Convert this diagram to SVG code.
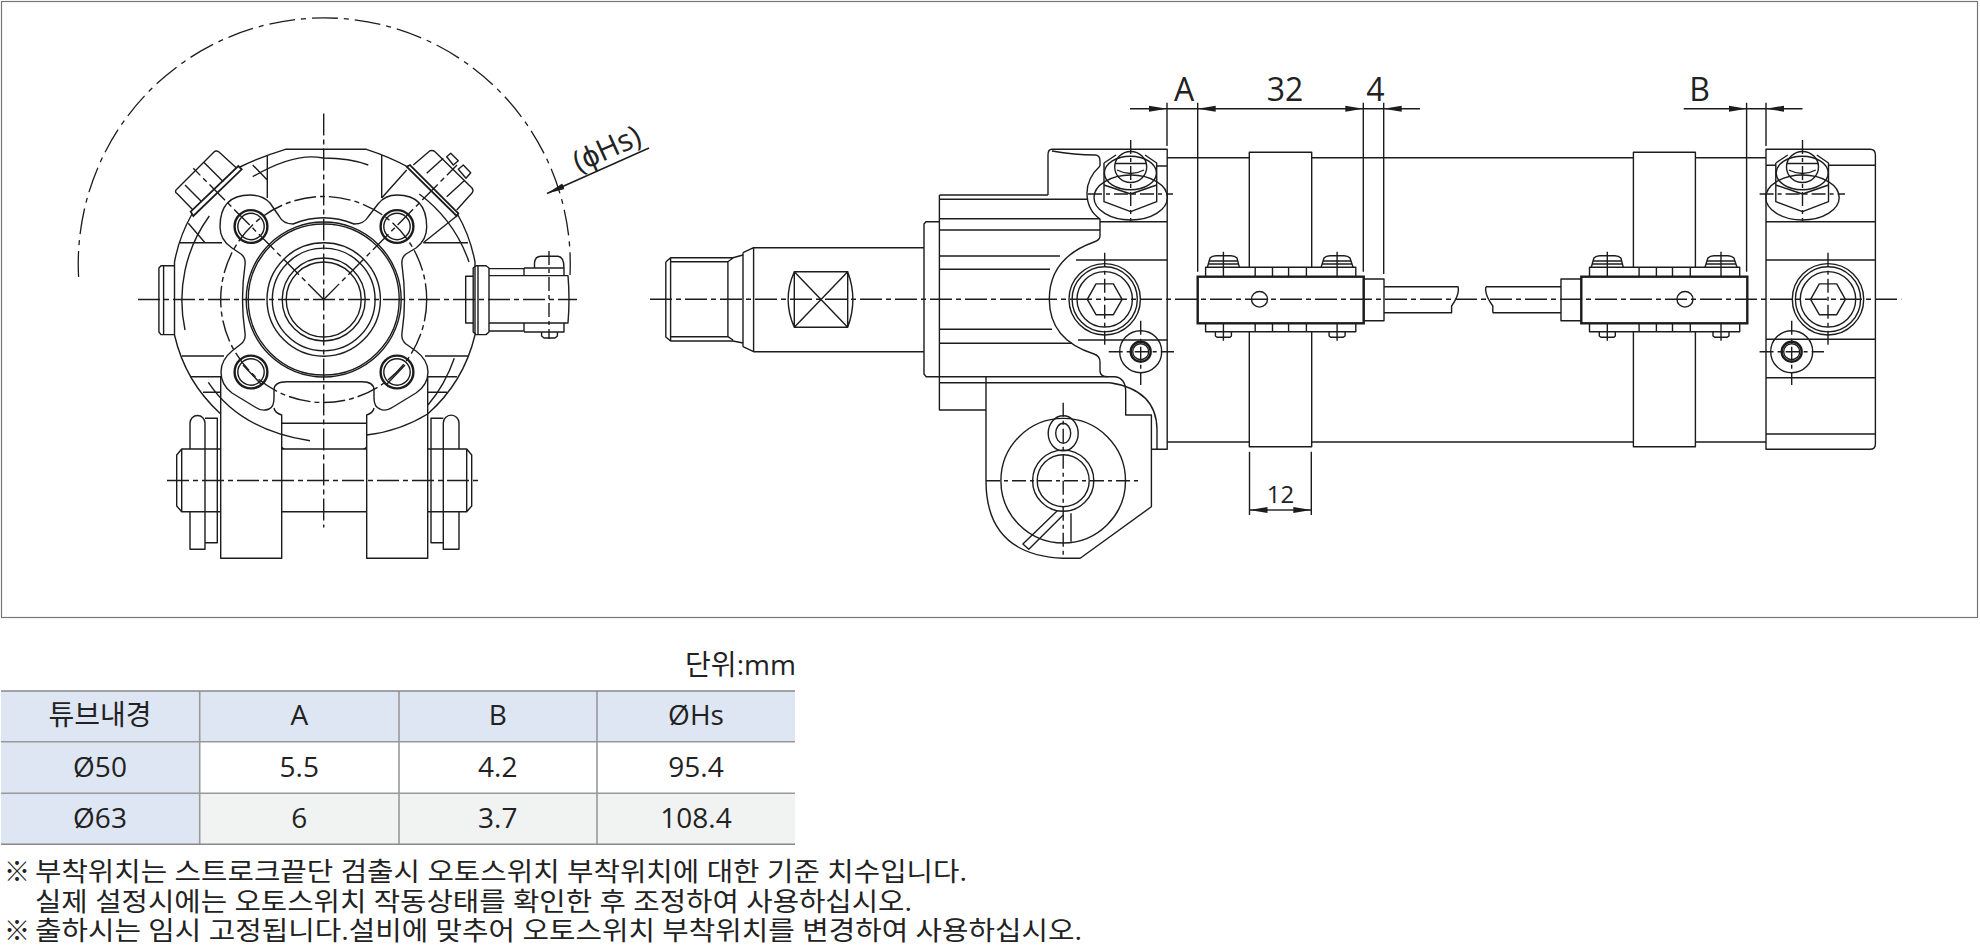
<svg xmlns="http://www.w3.org/2000/svg" width="1980" height="947" viewBox="0 0 1980 947">
<style>
.l{fill:none;stroke:#1c1c1c;stroke-width:1.4;stroke-linejoin:round}
.t{fill:none;stroke:#1c1c1c;stroke-width:2.4}
.c{fill:none;stroke:#1c1c1c;stroke-width:1.4;stroke-dasharray:22 4 5 4}
.b{fill:none;stroke:#1c1c1c;stroke-width:1.3;stroke-dasharray:26 6 5 6}
.k{fill:none;stroke:#1c1c1c;stroke-width:1.4;stroke-dasharray:14 4 4 4}
.d{fill:none;stroke:#1c1c1c;stroke-width:1.4}
text{font-family:"Open Sans","Noto Sans CJK KR",sans-serif;fill:#222}
.dim{font-size:32px;text-anchor:middle}
.tb{font-size:28px;text-anchor:middle}
.n{font-size:26px}
.g{stroke:#999;stroke-width:1.6;fill:none}
.h{fill:#dfe6f3}
.z{fill:#f1f3f2}
</style>
<defs>
<marker id="ar" markerUnits="userSpaceOnUse" markerWidth="20" markerHeight="8" refX="18" refY="4" orient="auto"><path d="M0 1L18 4L0 7Z" fill="#1c1c1c"/></marker>
<g id="top-bolt">
<ellipse class="l" cx="1130.7" cy="197.5" rx="36.7" ry="22.5"/>
<path class="l" d="M1104 163V201.7L1130.7 211.7L1156.7 201.7V163L1145 155M1116 155L1104 163M1104 185L1130.7 194L1156.7 185"/>
<ellipse class="l" cx="1130.4" cy="173" rx="26" ry="16.7"/>
<ellipse class="l" cx="1130.7" cy="167" rx="16" ry="15.5"/>
<path class="l" d="M1115 163.5H1146.5M1117 170Q1130.7 177 1144 170"/>
</g>
<g id="bolt-cross"><circle class="t" r="16.4"/><circle class="l" r="13.2"/></g>
<g id="socket-bolt"><circle class="l" r="35.7"/><circle class="l" r="32.6"/><circle class="l" r="27.7"/><path class="l" d="M-17.4 0L-8.7 -15.4H8.7L17.4 0L8.7 15.4H-8.7Z"/></g>
<g id="small-bolt"><circle class="l" r="21"/><circle class="t" r="10"/><circle class="l" r="8"/></g>
<g id="switch-plate">
<path class="l" d="M1205.6 276.7V267.3H1355.8V276.7M1205.6 323.3V331.7H1355.8V323.3M1255.2 267.3V276.7M1272.5 267.3V276.7M1288.6 267.3V276.7M1306.4 267.3V276.7M1255.2 323.3V331.7M1272.5 323.3V331.7M1288.6 323.3V331.7M1306.4 323.3V331.7"/>
<path class="l" d="M1207.4 267.3L1210 258Q1212 255.7 1216 255.7H1231Q1235 255.7 1237 258L1239.4 267.3M1208 264H1239M1209 261H1238M1321.1 267.3L1324 258Q1326 255.7 1330 255.7H1344Q1348 255.7 1350 258L1353.1 267.3M1322 264H1352M1323 261H1351"/>
<path class="l" d="M1215.4 331.7V336L1217 337.3H1230L1231.4 336V331.7M1329.1 331.7V336L1331 337.3H1343L1345.1 336V331.7"/>
<path class="d" d="M1223.4 251.7V276M1223.4 324V340.7M1337.1 251.7V276M1337.1 324V340.7"/>
</g>
</defs>
<rect id="frame" x="1.5" y="1.5" width="1976" height="616" fill="#fff" stroke="#777" stroke-width="1.2"/>

<g id="front-view">
<path class="b" d="M78.6 277A246 246 0 1 1 570 275"/>
<path class="l" d="M192 214A153 153 0 0 0 174.5 262V335A153 153 0 0 0 220.7 414M240 167Q260 157 285.4 149.3H366.4Q390 157 408 167M457.4 214A153 153 0 0 1 475 262V335A153 153 0 0 1 427.7 414A150 150 0 0 1 366.7 435"/>
<path class="l" d="M209.3 216A143 143 0 0 0 185 330M419.3 194A143 143 0 0 1 469 262M252.7 176.7Q295 152 323 158Q350 158 368.3 165M208.3 382.3Q240 430 310 440.7M454.3 358.3Q445 385 428 405"/>
<circle class="c" cx="323.7" cy="299.5" r="103"/>
<path class="l" d="M220 226.7Q220 195 250 195Q263 195 270 203L279 216Q283 224 293 224A80 80 0 0 1 354 224Q364 224 368 217L378 204Q385 195 397 195Q426.7 195 426.7 227Q426.7 240 416 248L406 254Q401 258 402 265Q407 300 402 333Q401 340 406 344L416 351Q428 360 428 372Q428 385 416 393L393 407Q385 412 380 409Q374 407 374 398V390Q374 381.7 362 381.7H287Q274 381.7 274 390V398Q274 407 269 409Q262 412 255 407L232 393Q221 385 221 372Q221 360 232 351L241 344Q246 340 245 333Q240 300 245 265Q246 258 241 254L232 248Q220 240 220 226.7Z"/>
<circle class="l" cx="323.7" cy="299.5" r="77.5"/><circle class="l" cx="323.7" cy="299.5" r="75.5"/>
<circle class="l" cx="323.7" cy="299.5" r="56.7"/><circle class="l" cx="323.7" cy="299.5" r="51.4"/>
<circle class="l" cx="323.7" cy="299.5" r="41.5"/><circle class="l" cx="323.7" cy="299.5" r="37.5"/>
<g id="bolts-front">
<use href="#bolt-cross" x="251" y="226.5"/><use href="#bolt-cross" x="397" y="226.5"/><use href="#bolt-cross" x="251" y="372"/><use href="#bolt-cross" x="397" y="372"/>
</g>
<path class="c" d="M323.7 299.5L193.3 168.3M323.7 299.5L457 165"/>
<path class="l" d="M243 365L261 384M405 365L387 384"/>
<path class="l" d="M274 408Q275 413 281.7 415V558.3H220.7V376M374 408Q373 413 366.7 415V558.3H427.7V376M281.7 423.3H366.7M281.7 449H366.7M281.7 511.7H366.7M281.7 446.7Q282 449 285 449M366.7 446.7Q366 449 363 449"/>
<path class="l" d="M205 418.3H217.3V542.7H205M190 449V423A7.5 7.5 0 0 1 205 423V549.3H190V511.7M220.7 449H181.7L176.7 455V506L181.7 511.7H220.7M181.7 449V511.7"/>
<path class="l" d="M443.3 418.3H431V542.7H443.3M459 449V423A7.8 7.8 0 0 0 443.3 423V549.3H459V511.7M427.7 449H466.7L471.7 455V506L466.7 511.7H427.7M466.7 449V511.7"/>
<path class="l" d="M180 242.7H222M423.3 242.7H468M181.7 356H224M425 356H468M190 376.7H220.7M427.7 376.7H457M203 392.3H220.7M427.7 392.3H447M267.3 155V198M381.7 155V198M252.7 165L267.3 180M406.7 170L381.7 198M188.3 223.3L205 242.7M456.7 216L423.3 242.7"/>
<path class="t" d="M190.7 211.7L238.3 166L241.7 169.3L193.3 216ZM406.7 166.7L410 165L458.3 213.3L456.7 216Z" style="stroke-width:1.8"/>
<path class="l" d="M193 210L177 193.5Q174 191.7 177 189L214 152Q216 150 219 152L236.5 168M185 185L201.7 201.7M203.3 161.7L223.3 181.7"/>
<path class="l" d="M413.3 165L430 150.7Q433 150 435 151.7L472 188Q474 191 472 193L456.7 210M426.7 173.3L443.3 158.3M446.7 196.7L465 180M446.7 156.7L450.7 153.3L458.3 160.7L453.3 165ZM458.3 169.3L463.3 165L470.7 172.7L466 178.3Z"/>
<path class="l" d="M174.7 265.8H161L158.9 268V332L161 334.6H174.7M163.6 265.8V334.6"/>
<path class="l" d="M473.2 276.3H465.7V323H473.2M473.2 268L476 265.8H486L489 268V332L486 334.6H476L473.2 332ZM478 265.8V334.6M489 275.6H568Q570 299 568 323H489M489 268.6H524V275.6M489 331H524V323M524 268H564V275.6M524 332H564V323M534.5 268V263Q535 256.3 541 256.3H558Q564 257 564 268M541.6 332V336L544 338H555L557.4 336V332"/>
<path class="c" d="M138 299.5H577M323.7 113.5V527.5M167 480.5H481.5"/>
<path class="k" d="M549 251V339"/>
<path class="d" marker-end="url(#ar)" d="M649 148L547 193.5"/>
<text class="dim" transform="translate(611 158) rotate(-24.5)" style="font-size:30px">(ϕHs)</text>
</g>

<g id="side-view">
<path class="l" d="M665.8 262L670.6 257.7H733L743 255M670.6 261.7H727.9L733 258M665.8 262V337L670.6 341H733L743 343M670.6 336.7H727.9L733 340M670.6 257.7V341M727.9 261.7V336.7"/>
<path class="l" d="M743 252.7L753.6 247.7H924M743 346.7L753.6 351.7H924M743 252.7V346.7M753.6 247.7V351.7"/>
<path class="l" d="M794.3 271.7H847.7V327.3H794.3ZM794.3 271.7L847.7 327.3M847.7 271.7L794.3 327.3M794.3 271.7Q782 299.5 794.3 327.3M847.7 271.7Q858 299.5 847.7 327.3"/>
<path class="l" d="M939.4 221.7H926L924 224V374L926 376.7H939.4M939.4 195V410H986M939.4 195H1048M939.4 199.3H1087M939.4 218.7H1100M939.4 230H1100M939.4 256H1060M939.4 269.3H1050M939.4 329.3H1052M939.4 343.3H1072M939.4 376.7H1108M939.4 382.7H1110"/>
<path class="l" d="M1100 218.7V236Q1100 240 1094 242Q1049.3 258 1049.3 299.3Q1049.3 340 1094 354Q1100 356 1100 362V371Q1100 376.7 1108 376.7H1115Q1125.7 378 1125.7 392V415H1151.4V506.7L1080.2 558.3H1063.2Q986 555 986 480.7V376.7"/>
<path class="l" d="M1110 382.7Q1157 390 1157 430V449.3M1151.4 449.3H1167.2V149.3H1052Q1048 149.3 1048 155V195M1052 151Q1075 155 1095 155Q1100 155 1100 161V166M1100 221.7H1167.2M1076 260H1167.2M1078 340H1167.2M1157 166H1167.2"/>
<path class="l" d="M1100 166Q1087 178 1087 193Q1087 210 1100 219"/>
<use href="#top-bolt"/>
<use href="#socket-bolt" x="1104.7" y="299.3"/>
<use href="#small-bolt" x="1140.7" y="351.7"/>
<circle class="l" cx="1063.2" cy="480.7" r="62.3"/><circle class="l" cx="1063.2" cy="480.7" r="30.6"/><circle class="l" cx="1063.2" cy="480.7" r="26"/>
<ellipse class="l" cx="1063.2" cy="433.3" rx="15" ry="17.5"/><ellipse class="l" cx="1063.2" cy="433.3" rx="7.5" ry="10"/>
<path class="l" d="M1057.3 510.7L1022.9 544L1028.8 549.3L1063.2 515M1071 513.3V541.7"/>
<path class="k" d="M1130.7 140V220.7M1088 194H1173M1104.7 252.7V346.7M1140.7 320.7V385M1108.7 351.7H1174M1063.2 402.7V558.3M986 480.7H1141.5"/>

<g id="tube">
<path class="l" d="M1167.2 157.7H1249.3M1311.7 157.7H1633.4M1695.4 157.7H1766M1167.2 442H1249.3M1311.7 442H1633.4M1695.4 442H1766"/>
<path class="l" d="M1249.3 267V152.3H1311.7V267M1249.3 331.7V446.7H1311.7V331.7M1633.4 267V152.3H1695.4V267M1633.4 331.7V446.7H1695.4V331.7"/>
<path class="l" d="M1384 286.7H1458Q1460 294 1451.6 306V312.7H1384M1486 286.7H1561M1492.8 312.7H1561M1486 286.7Q1484 294 1492.8 306V312.7"/>
</g>
<g id="switch-1">
<rect class="t" x="1197.7" y="276.7" width="166" height="46.6"/>
<rect class="l" x="1363.6" y="279" width="20.4" height="41.7"/>
<use href="#switch-plate"/>
<ellipse class="l" cx="1259.5" cy="299.3" rx="8" ry="7.8"/>
</g>
<g id="switch-2">
<rect class="t" x="1581.3" y="276.7" width="166" height="46.6"/>
<rect class="l" x="1561" y="279" width="20.3" height="41.7"/>
<use href="#switch-plate" x="383.9"/>
<ellipse class="l" cx="1685" cy="299.3" rx="8" ry="7.8"/>
</g>

<g id="end-block">
<path class="l" d="M1766 149.3H1870Q1875.4 149.3 1875.4 155V444Q1875.4 449.3 1870 449.3H1766ZM1828.5 165.3H1875.4M1766 165.3H1776M1766 221.7H1875.4M1766 260H1875.4M1766 339.3H1875.4M1766 377.7H1875.4M1766 434H1875.4"/>
<use href="#top-bolt" x="671.8"/>
<use href="#socket-bolt" x="1828" y="299.3"/>
<use href="#small-bolt" x="1791.7" y="351.7"/>
<path class="k" d="M1802.5 140V220.7M1759.6 194H1845M1828 252.7V346.7M1791.7 320.7V385M1759.6 351.7H1824"/>
</g>
<path class="c" d="M650 299.3H1901.3"/>
</g>

<g id="dimensions">
<path class="d" d="M1167 102.7V146M1197.7 102.7V271.7M1363.3 102.7V271.7M1383.7 102.7V274M1746.6 102.7V271.7M1766 102.7V146M1249.5 451.7V515M1311.3 451.7V515M1167 108.7H1197.7M1363.3 108.7H1383.7M1746.6 108.7H1766"/>
<path class="d" marker-end="url(#ar)" d="M1130 108.7H1167"/>
<path class="d" marker-end="url(#ar)" d="M1280 108.7H1197.7"/>
<path class="d" marker-end="url(#ar)" d="M1280 108.7H1363.3"/>
<path class="d" marker-end="url(#ar)" d="M1420 108.7H1383.7"/>
<path class="d" marker-end="url(#ar)" d="M1683.7 108.7H1746.6"/>
<path class="d" marker-end="url(#ar)" d="M1802.5 108.7H1766"/>
<path class="d" marker-end="url(#ar)" d="M1280 510H1249.5"/>
<path class="d" marker-end="url(#ar)" d="M1280 510H1311.3"/>
<text class="dim" x="1184" y="100.7">A</text>
<text class="dim" x="1285" y="100.7">32</text>
<text class="dim" x="1375.3" y="100.7">4</text>
<text class="dim" x="1699.7" y="100.7">B</text>
<text class="dim" x="1280.6" y="502.5" style="font-size:24px">12</text>
</g>

<g id="table">
<text x="796" y="675" text-anchor="end" style="font-size:28px" textLength="111" lengthAdjust="spacingAndGlyphs">단위:mm</text>
<rect class="h" x="1" y="691" width="794" height="51"/>
<rect class="h" x="1" y="742" width="199" height="102"/>
<rect class="z" x="200" y="793" width="595" height="51"/>
<path class="g" d="M199.7 691V844M399 691V844M597 691V844M1 741.7H795M1 793.3H795"/>
<path class="g" style="stroke:#888" d="M1 691H795M1 844.3H795"/>
<text class="tb" x="100" y="725">튜브내경</text><text class="tb" x="299.3" y="725">A</text><text class="tb" x="497.8" y="725">B</text><text class="tb" x="696" y="725">ØHs</text>
<text class="tb" x="100" y="776.5">Ø50</text><text class="tb" x="299.3" y="776.5">5.5</text><text class="tb" x="497.8" y="776.5">4.2</text><text class="tb" x="696" y="776.5">95.4</text>
<text class="tb" x="100" y="827.5">Ø63</text><text class="tb" x="299.3" y="827.5">6</text><text class="tb" x="497.8" y="827.5">3.7</text><text class="tb" x="696" y="827.5">108.4</text>
</g>
<g id="notes">
<text class="n" x="4" y="881">※</text>
<text class="n" x="35" y="881" textLength="932" lengthAdjust="spacingAndGlyphs">부착위치는 스트로크끝단 검출시 오토스위치 부착위치에 대한 기준 치수입니다.</text>
<text class="n" x="35" y="911" textLength="877" lengthAdjust="spacingAndGlyphs">실제 설정시에는 오토스위치 작동상태를 확인한 후 조정하여 사용하십시오.</text>
<text class="n" x="4" y="939.5">※</text>
<text class="n" x="35" y="939.5" textLength="1047" lengthAdjust="spacingAndGlyphs">출하시는 임시 고정됩니다.설비에 맞추어 오토스위치 부착위치를 변경하여 사용하십시오.</text>
</g>
</svg>
